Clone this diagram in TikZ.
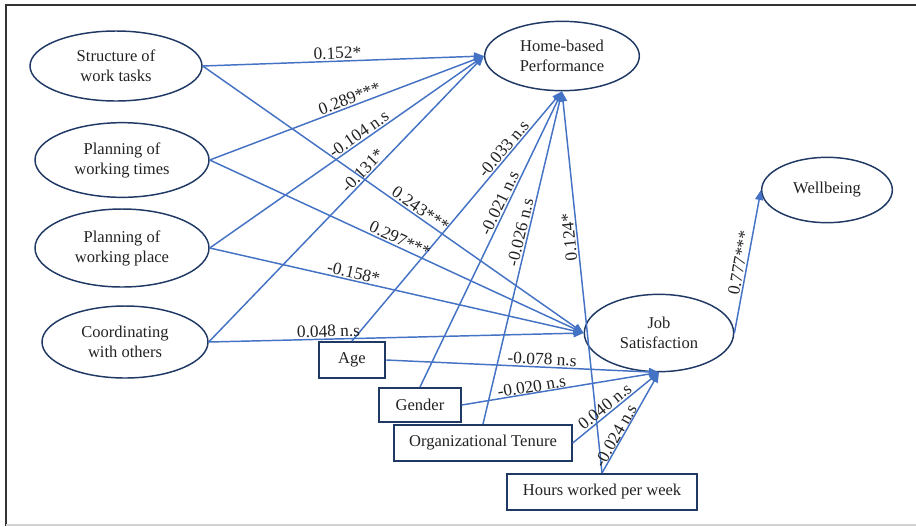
\documentclass[tikz,border=0pt]{standalone}
\usepackage{fontspec}
\setmainfont{Liberation Serif}
\usetikzlibrary{shapes.geometric,arrows.meta}
\definecolor{lineblue}{HTML}{4472C4}
\definecolor{navy}{HTML}{1F3864}
\definecolor{txt}{HTML}{222222}
\begin{document}
\begin{tikzpicture}[x=0.75pt,y=-0.75pt,
  ell/.style={ellipse, draw=navy, line width=1.1pt, inner sep=0pt, align=center, font=\fontsize{12.4}{15}\selectfont, text=txt},
  box/.style={rectangle, draw=navy, line width=1.5pt, inner sep=0pt, align=center, font=\fontsize{12.4}{15}\selectfont, text=txt},
  conn/.style={draw=lineblue, line width=1.1pt, -{Triangle[length=7.5pt,width=6pt]}},
  lab/.style={font=\fontsize{13}{15}\selectfont, text=txt, inner sep=1pt, sloped, above}
]
\useasboundingbox (0,0) rectangle (916,526);
% frame
\draw[line width=1.5pt, black!80] (6,526) -- (6,5) -- (916,5);
\draw[line width=1.2pt, gray!35] (6,525) -- (916,525);

% latent variables
\node[ell, minimum width=129pt, minimum height=52.5pt] (st) at (116,66) {Structure of\\work tasks};
\node[ell, minimum width=130.5pt, minimum height=56pt] (pt) at (122,160) {Planning of\\working times};
\node[ell, minimum width=130.5pt, minimum height=58.5pt] (pp) at (122,248) {Planning of\\working place};
\node[ell, minimum width=124.5pt, minimum height=54pt] (co) at (125,342) {Coordinating\\with others};
\node[ell, minimum width=116pt, minimum height=52pt] (hbp) at (562,56) {Home-based\\Performance};
\node[ell, minimum width=98pt, minimum height=49pt] (wb) at (827,190) {Wellbeing};
\node[ell, minimum width=112pt, minimum height=58pt] (js) at (659,333) {Job\\Satisfaction};

% control variables
\node[box, minimum width=50pt, minimum height=27pt] (age) at (352,360) {Age};
\node[box, minimum width=61pt, minimum height=25.5pt] (gen) at (420,405) {Gender};
\node[box, minimum width=133pt, minimum height=27pt] (org) at (483,443) {Organizational Tenure};
\node[box, minimum width=142.5pt, minimum height=27pt] (hrs) at (602,492) {Hours worked per week};

% paths to Home-based Performance
\draw[conn] (st.east) -- node[lab, pos=.48] {0.152*} (hbp.west);
\draw[conn] (pt.east) -- node[lab, pos=.52] {0.289***} (hbp.west);
\draw[conn] (pp.east) -- node[lab, pos=.56] {-0.104 n.s} (hbp.west);
\draw[conn] (co.east) -- node[lab, pos=.58] {-0.131*} (hbp.west);
\draw[conn] (age.north) -- node[lab, pos=.75] {-0.033 n.s} (hbp.south);
\draw[conn] (gen.north) -- node[lab, pos=.61] {-0.021 n.s} (hbp.south);
\draw[conn] (org.north) -- node[lab, pos=.57] {-0.026 n.s} (hbp.south);
\draw[conn] (hrs.north) -- node[lab, pos=.62, allow upside down] {0.124*} (hbp.south);

% paths to Job Satisfaction
\draw[conn] (st.east) -- node[lab, pos=.56] {0.243***} (js.west);
\draw[conn] (pt.east) -- node[lab, pos=.5] {0.297***} (js.west);
\draw[conn] (pp.east) -- node[lab, pos=.38] {-0.158*} (js.west);
\draw[conn] (co.east) -- node[lab, pos=.32] {0.048 n.s} (js.west);
\draw[conn] (age.east) -- node[lab, pos=.57] {-0.078 n.s} (js.south);
\draw[conn] (gen.east) -- node[lab, pos=.36, inner sep=0pt] {-0.020 n.s} (js.south);
\draw[conn] (org.east) -- node[lab, pos=.43] {0.040 n.s} (js.south);
\draw[conn] (hrs.north) -- node[lab, pos=.34, inner sep=0pt] {-0.024 n.s} (js.south);

% Job Satisfaction to Wellbeing
\draw[conn] (js.east) -- node[lab, pos=.48] {0.777***} (wb.west);
\end{tikzpicture}
\end{document}
